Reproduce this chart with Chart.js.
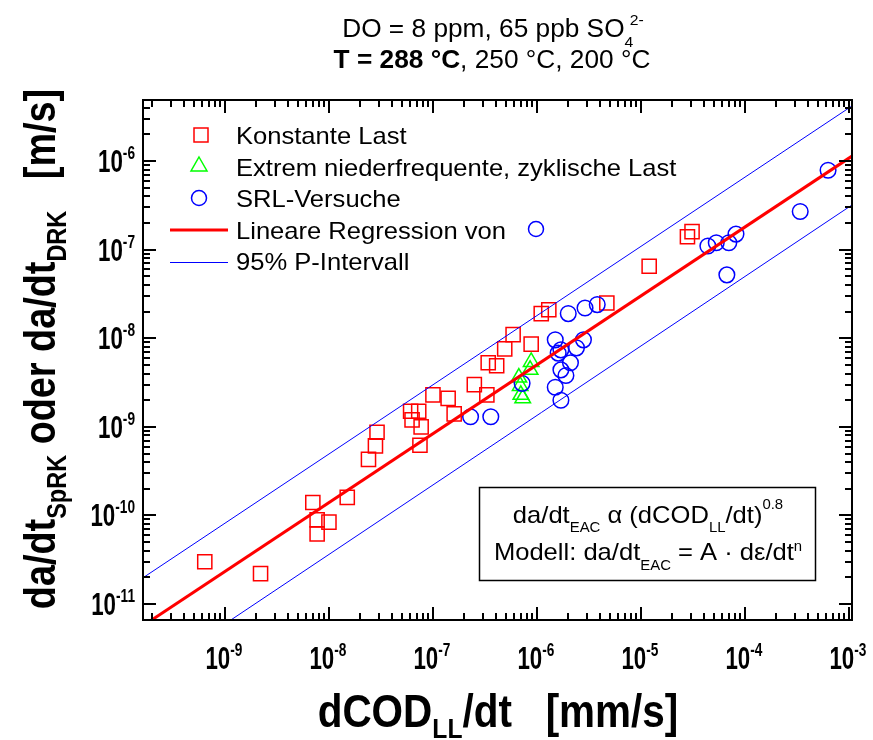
<!DOCTYPE html>
<html>
<head>
<meta charset="utf-8">
<script src="https://cdn.jsdelivr.net/npm/chart.js@4.4.0/dist/chart.umd.min.js"></script>
<style>
  html, body { margin: 0; padding: 0; background: #fff; }
</style>
</head>
<body>
<canvas id="grafico_log" width="873" height="740"></canvas>
<script>
// Werte
const konstX = [6.4e-10, 2.2e-9, 7.0e-9, 7.7e-9, 7.7e-9, 1.0e-8, 1.5e-8, 2.4e-8, 2.8e-8, 2.9e-8, 6.1e-8, 7.3e-8, 6.3e-8, 7.7e-8, 7.5e-8, 1.0e-7, 1.4e-7, 1.6e-7, 2.5e-7, 3.3e-7, 3.4e-7, 4.1e-7, 4.9e-7, 5.9e-7, 8.8e-7, 1.1e-6, 1.3e-6, 4.7e-6, 1.2e-5, 2.8e-5, 3.1e-5]
const konstY = [3.0e-11, 2.2e-11, 1.4e-10, 8.9e-11, 6.2e-11, 8.4e-11, 1.6e-10, 4.3e-10, 6.1e-10, 8.7e-10, 1.5e-9, 1.5e-9, 1.2e-9, 1.0e-9, 6.2e-10, 2.3e-9, 2.1e-9, 1.4e-9, 3.0e-9, 2.3e-9, 5.3e-9, 4.9e-9, 7.6e-9, 1.1e-8, 8.6e-9, 1.9e-8, 2.1e-8, 2.5e-8, 6.5e-8, 1.4e-7, 1.6e-7]

const zyklX = [8.8e-7, 8.6e-7, 6.7e-7, 6.9e-7, 7.0e-7, 7.3e-7]
const zyklY = [5.4e-9, 4.4e-9, 3.6e-9, 2.9e-9, 2.3e-9, 2.1e-9]

const srlX = [2.3e-7, 3.6e-7, 7.2e-7, 1.5e-6, 1.6e-6, 1.7e-6, 2.4e-6, 2.8e-6, 2.1e-6, 1.7e-6, 1.9e-6, 1.5e-6, 1.7e-6, 2.0e-6, 2.9e-6, 3.8e-6, 4.4e-5, 5.3e-5, 7.0e-5, 8.2e-5, 6.7e-5, 3.4e-4, 6.3e-4]
const srlY = [1.3e-9, 1.3e-9, 3.1e-9, 9.6e-9, 6.8e-9, 7.4e-9, 7.8e-9, 9.6e-9, 5.3e-9, 4.4e-9, 3.8e-9, 2.8e-9, 2.0e-9, 1.9e-8, 2.2e-8, 2.4e-8, 1.1e-7, 1.2e-7, 1.2e-7, 1.5e-7, 5.2e-8, 2.7e-7, 7.9e-7]

// Regression und 95% P-Intervall (Endpunkte)
const regX = [1.6e-10, 1.07e-3]
const regY = [5.6e-12, 1.14e-6]
const oberX = [1.6e-10, 1.07e-3]
const oberY = [1.95e-11, 4.2e-6]
const unterX = [1.14e-9, 1.07e-3]
const unterY = [6.6e-12, 3.2e-7]

const xExp = [-9, -8, -7, -6, -5, -4, -3]
const yExp = [-11, -10, -9, -8, -7, -6]

const xy = (xs, ys) => xs.map((v, i) => ({ x: v, y: ys[i] }))

const FONT = '"Liberation Sans", Arial, sans-serif'

// Text mit Hoch-/Tiefstellung: teile = [text, font, dy, vorschub]
function zeile(ctx, teile, x, y, sx, align) {
  const adv = t => { ctx.font = t[1]; return t[3] !== undefined ? t[3] : ctx.measureText(t[0]).width }
  let w = 0
  teile.forEach(t => { w += adv(t) })
  ctx.save()
  ctx.translate(x, y)
  ctx.scale(sx, 1)
  let cx = align === 'center' ? -w / 2 : align === 'right' ? -w : 0
  ctx.textAlign = 'left'
  ctx.textBaseline = 'alphabetic'
  ctx.fillStyle = '#000'
  teile.forEach(t => {
    ctx.font = t[1]
    ctx.fillText(t[0], cx, t[2] || 0)
    cx += adv(t)
  })
  ctx.restore()
}

const R = (s) => s + 'px ' + FONT
const B = (s) => 'bold ' + s + 'px ' + FONT

const rahmen = {
  id: 'rahmen',
  afterDatasetsDraw(chart) {
    const { ctx, chartArea: a, scales: { x, y } } = chart
    ctx.save()
    ctx.strokeStyle = '#000'
    ctx.lineWidth = 2
    ctx.strokeRect(a.left, a.top, a.right - a.left, a.bottom - a.top)

    ctx.beginPath()
    for (let e = -11; e <= -3; e++) {
      for (let m = 1; m <= 9; m++) {
        const v = m * Math.pow(10, e)
        const len = m === 1 ? 13 : 7
        if (v >= x.min && v <= x.max) {
          const px = Math.round(x.getPixelForValue(v))
          ctx.moveTo(px, a.bottom); ctx.lineTo(px, a.bottom - len)
          ctx.moveTo(px, a.top); ctx.lineTo(px, a.top + len)
        }
        if (v >= y.min && v <= y.max) {
          const py = Math.round(y.getPixelForValue(v))
          ctx.moveTo(a.left, py); ctx.lineTo(a.left + len, py)
          ctx.moveTo(a.right, py); ctx.lineTo(a.right - len, py)
        }
      }
    }
    ctx.stroke()
    ctx.restore()

    // Achsenbeschriftungen
    xExp.forEach(e => {
      const px = x.getPixelForValue(Math.pow(10, e))
      zeile(ctx, [['10', B(31)], [String(e), B(19), -13]], px - 1, 669, 0.72, 'center')
    })
    yExp.forEach(e => {
      const py = y.getPixelForValue(Math.pow(10, e))
      zeile(ctx, [['10', B(31)], [String(e), B(19), -13]], 135, py + 11, 0.72, 'right')
    })

    // Achsentitel
    zeile(ctx, [['dCOD', B(46)], ['LL', B(28), 11], ['/dt   [mm/s]', B(46)]], 498, 727, 0.88, 'center')
    ctx.save()
    ctx.translate(55, 349)
    ctx.rotate(-Math.PI / 2)
    zeile(ctx, [['da/dt', B(45)], ['SpRK', B(28), 11], [' oder da/dt', B(45)], ['DRK', B(28), 11], ['   [m/s]', B(45)]], 0, 0, 0.84, 'center')
    ctx.restore()

    // Titel
    zeile(ctx, [['DO = 8 ppm, 65 ppb SO', R(25)], ['4', R(15), 10, 5], ['2-', R(15), -12]], 493, 37, 1.05, 'center')
    zeile(ctx, [['T = 288 °C', B(25)], [', 250 °C, 200 °C', R(25)]], 492, 68, 1.05, 'center')

    // Legende
    ctx.save()
    ctx.lineWidth = 1.5
    ctx.strokeStyle = '#ff0000'
    ctx.strokeRect(194, 128, 14, 14)
    ctx.strokeStyle = '#00ff00'
    ctx.beginPath()
    ctx.moveTo(199, 157); ctx.lineTo(207, 171); ctx.lineTo(191, 171); ctx.closePath()
    ctx.stroke()
    ctx.strokeStyle = '#0000ff'
    ctx.beginPath(); ctx.arc(199, 198, 7.5, 0, Math.PI * 2); ctx.stroke()
    ctx.beginPath(); ctx.arc(536, 229, 7.5, 0, Math.PI * 2); ctx.stroke()
    ctx.strokeStyle = '#ff0000'
    ctx.lineWidth = 3
    ctx.beginPath(); ctx.moveTo(170, 230); ctx.lineTo(228, 230); ctx.stroke()
    ctx.strokeStyle = '#0000ff'
    ctx.lineWidth = 1
    ctx.beginPath(); ctx.moveTo(170, 262.5); ctx.lineTo(228, 262.5); ctx.stroke()
    ctx.restore()
    const leg = ['Konstante Last', 'Extrem niederfrequente, zyklische Last', 'SRL-Versuche', 'Lineare Regression von', '95% P-Intervall']
    leg.forEach((s, i) => zeile(ctx, [[s, R(24)]], 236, 144 + i * 31.6, 1.065, 'left'))

    // Modellkasten
    ctx.save()
    ctx.fillStyle = '#fff'
    ctx.fillRect(479, 487, 337, 94)
    ctx.strokeStyle = '#000'
    ctx.lineWidth = 1.5
    ctx.strokeRect(479.5, 487.5, 336, 93)
    ctx.restore()
    zeile(ctx, [['da/dt', R(24)], ['EAC', R(14), 9], [' α (dCOD', R(24)], ['LL', R(14), 9], ['/dt)', R(24)], ['0.8', R(14), -14]], 648, 523, 1.065, 'center')
    zeile(ctx, [['Modell: da/dt', R(24)], ['EAC', R(14), 10], [' = A · dε/dt', R(24)], ['n', R(14), -9]], 648, 560, 1.065, 'center')
  }
}

const ctx = document.getElementById('grafico_log')

const config = {
  type: 'scatter',
  data: {
    datasets: [
      {
        label: 'Lineare Regression',
        data: xy(regX, regY),
        showLine: true,
        borderColor: '#ff0000',
        borderWidth: 3,
        pointRadius: 0,
        clip: 0,
        order: 0
      },
      {
        label: '95% oben',
        data: xy(oberX, oberY),
        showLine: true,
        borderColor: '#0000ff',
        borderWidth: 1,
        pointRadius: 0,
        clip: 0,
        order: 1
      },
      {
        label: '95% unten',
        data: xy(unterX, unterY),
        showLine: true,
        borderColor: '#0000ff',
        borderWidth: 1,
        pointRadius: 0,
        clip: 0,
        order: 1
      },
      {
        label: 'SRL-Versuche',
        data: xy(srlX, srlY),
        pointStyle: 'circle',
        pointRadius: 7.8,
        borderColor: '#0000ff',
        backgroundColor: 'rgba(0,0,0,0)',
        borderWidth: 1.5,
        order: 2
      },
      {
        label: 'Extrem niederfrequente, zyklische Last',
        data: xy(zyklX, zyklY),
        pointStyle: 'triangle',
        pointRadius: 9,
        borderColor: '#00ff00',
        backgroundColor: 'rgba(0,0,0,0)',
        borderWidth: 1.5,
        order: 3
      },
      {
        label: 'Konstante Last',
        data: xy(konstX, konstY),
        pointStyle: 'rect',
        pointRadius: 10,
        borderColor: '#ff0000',
        backgroundColor: 'rgba(0,0,0,0)',
        borderWidth: 1.5,
        order: 4
      }
    ]
  },
  options: {
    responsive: false,
    animation: false,
    events: [],
    layout: { padding: { top: 100, right: 21, bottom: 0, left: 0 } },
    plugins: { legend: { display: false }, tooltip: { enabled: false } },
    scales: {
      x: {
        type: 'logarithmic',
        min: 1.63e-10,
        max: 1.07e-3,
        grid: { display: false },
        border: { display: false },
        ticks: { display: false },
        afterFit: s => { s.height = 120 }
      },
      y: {
        type: 'logarithmic',
        min: 6.6e-12,
        max: 4.9e-6,
        grid: { display: false },
        border: { display: false },
        ticks: { display: false },
        afterFit: s => { s.width = 143 }
      }
    }
  },
  plugins: [rahmen]
}

const graph = new Chart(ctx, config)
</script>
</body>
</html>
